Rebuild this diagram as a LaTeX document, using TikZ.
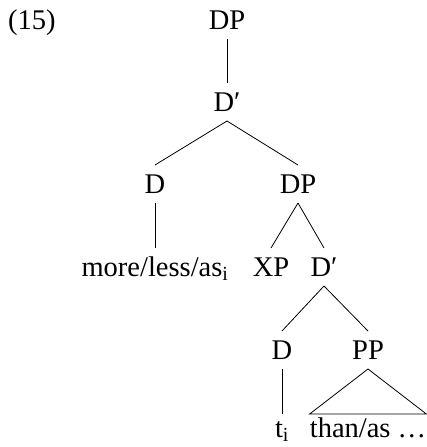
\documentclass[tikz,border=0pt]{standalone}
\usepackage{fontspec}
\setmainfont{Liberation Serif}
\begin{document}
\begin{tikzpicture}[x=1pt,y=-1pt,
  every node/.style={font=\fontsize{28.5}{34}\selectfont},
  cat/.style={anchor=base,inner sep=0pt,text height=18pt,text depth=0pt,outer ysep=10pt},
  leaf/.style={anchor=base,inner sep=0pt,text height=18pt,text depth=0pt,outer ysep=5pt},
  branch/.style={line width=0.8pt,black}]
\useasboundingbox (0,0) rectangle (426,447);
\node[anchor=base west,inner sep=0pt] (ex) at (8,29) {(15)};
\node[cat] (dp1) at (227,29) {DP};
\node[cat] (dbar1) at (227,111) {D′};
\node[cat] (d1) at (155,193) {D};
\node[cat] (dp2) at (298,193) {DP};
\node[cat] (more) at (155,276) {more/less/as\textsubscript{i}};
\node[cat] (xp) at (271,276) {XP};
\node[cat] (dbar2) at (324,276) {D′};
\node[cat] (d2) at (282,359) {D};
\node[cat] (pp) at (368,359) {PP};
\node[leaf] (t) at (282,437) {t\textsubscript{i}};
\node[leaf] (than) at (368,437) {than/as …};
\draw[branch] (dp1.south) -- (dbar1.north);
\draw[branch] (dbar1.south) -- (d1.north);
\draw[branch] (dbar1.south) -- (dp2.north);
\draw[branch] (d1.south) -- (more.north);
\draw[branch] (dp2.south) -- (xp.north);
\draw[branch] (dp2.south) -- (dbar2.north);
\draw[branch] (dbar2.south) -- (d2.north);
\draw[branch] (dbar2.south) -- (pp.north);
\draw[branch] (d2.south) -- (t.north);
\draw[branch] (pp.south) -- (than.north west) -- (than.north east) -- cycle;
\end{tikzpicture}
\end{document}
